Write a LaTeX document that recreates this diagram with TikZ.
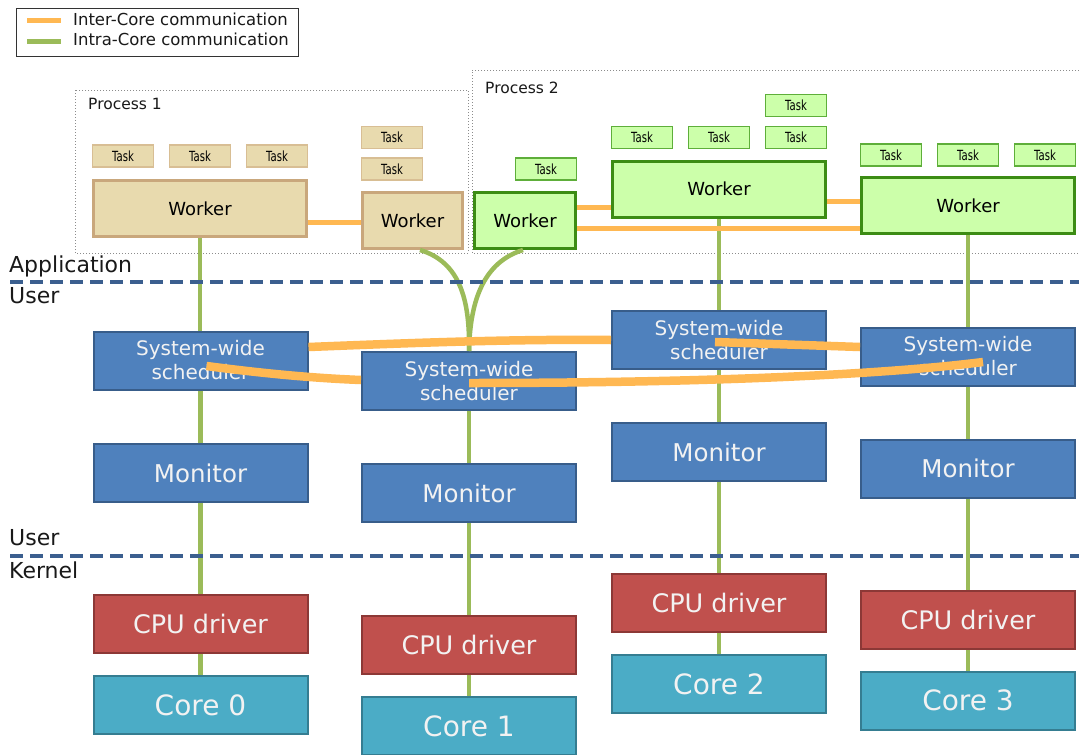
\documentclass[tikz,border=0pt]{standalone}
\usepackage{fontspec}
\setmainfont{DejaVu Sans}
\usepackage{graphicx}
\definecolor{tanfill}{HTML}{E8DAAE}
\definecolor{tanline}{HTML}{C9A77C}
\definecolor{tantask}{HTML}{D8BE94}
\definecolor{grnfill}{HTML}{CCFFAA}
\definecolor{grnline}{HTML}{3C8C14}
\definecolor{grntask}{HTML}{5EAE3A}
\definecolor{bluefill}{HTML}{4F81BD}
\definecolor{blueline}{HTML}{385D8A}
\definecolor{redfill}{HTML}{C0504D}
\definecolor{redline}{HTML}{8C3836}
\definecolor{cyanfill}{HTML}{4BACC6}
\definecolor{cyanline}{HTML}{357D91}
\definecolor{intra}{HTML}{9BBB59}
\definecolor{inter}{HTML}{FFB852}
\definecolor{dashblue}{HTML}{3B5F8F}
\definecolor{boxtext}{HTML}{F2F2F2}
\begin{document}
\begin{tikzpicture}[x=1pt,y=-1pt,
  lbl/.style={inner sep=0pt, anchor=base west, font=\fontsize{22}{26}\selectfont, text=black!90},
  procbox/.style={draw=black!45, dotted, line width=1pt},
  proclbl/.style={inner sep=0pt, anchor=base west, font=\fontsize{15.5}{18}\selectfont, text=black!90},
  tasktan/.style={draw=tantask, fill=tanfill, line width=1.5pt, minimum width=61pt, minimum height=22pt, inner sep=0pt, font=\fontsize{14}{16}\selectfont},
  taskgrn/.style={draw=grntask, fill=grnfill, line width=1.5pt, minimum width=61pt, minimum height=22pt, inner sep=0pt, font=\fontsize{14}{16}\selectfont},
  worktan/.style={draw=tanline, fill=tanfill, line width=3pt, minimum height=56pt, inner sep=0pt, font=\fontsize{18}{22}\selectfont},
  workgrn/.style={draw=grnline, fill=grnfill, line width=3pt, minimum height=56pt, inner sep=0pt, font=\fontsize{18}{22}\selectfont},
  sysbox/.style={line width=2pt, minimum width=214pt, minimum height=58pt, inner sep=0pt, text=boxtext, align=center},
  sched/.style={sysbox, draw=blueline, fill=bluefill, font=\fontsize{20}{24}\selectfont},
  monitor/.style={sysbox, draw=blueline, fill=bluefill, font=\fontsize{24.5}{28}\selectfont},
  cpudrv/.style={sysbox, draw=redline, fill=redfill, font=\fontsize{25.5}{28}\selectfont},
  corebox/.style={sysbox, draw=cyanline, fill=cyanfill, font=\fontsize{28}{32}\selectfont},
  intraline/.style={draw=intra, line width=4.5pt},
  interthin/.style={draw=inter, line width=5pt},
  interthick/.style={draw=inter, line width=8.5pt},
  layer/.style={draw=dashblue, line width=3.5pt, dash pattern=on 13pt off 7pt}
]
\useasboundingbox (0,0) rectangle (1079,755);
\fill[white] (0,0) rectangle (1079,755);

% legend
\node[draw=black!80, line width=0.8pt, minimum width=282pt, minimum height=48pt, inner sep=0pt] (legend) at (157,32) {};
\coordinate (lo1) at (27,20.5);
\coordinate (lo2) at (61,20.5);
\coordinate (lg1) at (27,41);
\coordinate (lg2) at (61,41);
\draw[interthin] (lo1) -- (lo2);
\draw[intraline, line width=5pt] (lg1) -- (lg2);
\node[proclbl, font=\fontsize{16.5}{19}\selectfont] (leginter) at (73,25) {Inter-Core communication};
\node[proclbl, font=\fontsize{16.5}{19}\selectfont] (legintra) at (73,45) {Intra-Core communication};

% process boxes
\draw[procbox] (75,90) rectangle (468,253);
\draw[procbox] (1079,70) -- (472,70) -- (472,253) -- (1079,253);
\node[proclbl] (p1) at (88,109) {Process 1};
\node[proclbl] (p2) at (485,93) {Process 2};

% tasks process 1
\foreach \n/\x/\y in {a/123/156, b/200/156, c/277/156, d/392/137.5, e/392/169}
  \node[tasktan] (t\n) at (\x,\y) {\scalebox{0.72}[1]{Task}};
% tasks process 2
\foreach \n/\x/\y in {f/546/169, g/642/137.5, h/719/137.5, i/796/137.5, j/796/105.5, k/891/155, l/968/155, m/1045/155}
  \node[taskgrn] (t\n) at (\x,\y) {\scalebox{0.72}[1]{Task}};

% workers
\node[worktan, minimum width=213pt] (w1) at (200,208.5) {Worker};
\node[worktan, minimum width=100pt] (w2) at (412.5,220.5) {Worker};
\node[workgrn, minimum width=101pt] (w3) at (525,220.5) {Worker};
\node[workgrn, minimum width=213pt] (w4) at (719,189) {Worker};
\node[workgrn, minimum width=213pt] (w5) at (968,205.5) {Worker};

% layers
\node[lbl] (app) at (9,272) {Application};
\node[lbl] (user1) at (9,303) {User};
\node[lbl] (user2) at (9,545) {User};
\node[lbl] (kern) at (9,578) {Kernel};
\coordinate (d1a) at (10,282);
\coordinate (d1b) at (1079,282);
\coordinate (d2a) at (10,556);
\coordinate (d2b) at (1079,556);

% columns
\node[sched] (s0) at (200.5,360.5) {System-wide\\scheduler};
\node[monitor] (m0) at (200.5,473) {Monitor};
\node[cpudrv] (c0) at (200.5,624) {CPU driver};
\node[corebox] (k0) at (200.5,705) {Core 0};

\node[sched] (s1) at (469,381) {System-wide\\scheduler};
\node[monitor] (m1) at (469,493) {Monitor};
\node[cpudrv] (c1) at (469,645) {CPU driver};
\node[corebox] (k1) at (469,726) {Core 1};

\node[sched] (s2) at (719,340) {System-wide\\scheduler};
\node[monitor] (m2) at (719,452) {Monitor};
\node[cpudrv] (c2) at (719,603) {CPU driver};
\node[corebox] (k2) at (719,684) {Core 2};

\node[sched] (s3) at (968,356.5) {System-wide\\scheduler};
\node[monitor] (m3) at (968,468.5) {Monitor};
\node[cpudrv] (c3) at (968,620) {CPU driver};
\node[corebox] (k3) at (968,700.5) {Core 3};

% intra-core connections
\draw[intraline] (w1.south) -- (w1.south |- s0.north);
\draw[intraline] (w4.south) -- (s2.north);
\draw[intraline] (w5.south) -- (s3.north);
\draw[intraline] ([xshift=7.5pt]w2.south) .. controls (460,262) and (470,300) .. (s1.north);
\draw[intraline] ([xshift=-2pt]w3.south) .. controls (484,262) and (470,300) .. (s1.north);
\foreach \c in {0,1,2,3} {
  \draw[intraline] (s\c.south) -- (m\c.north);
  \draw[intraline] (m\c.south) -- (c\c.north);
  \draw[intraline] (c\c.south) -- (k\c.north);
}

% layer separators
\draw[layer] (d1a) -- (d1b);
\draw[layer] (d2a) -- (d2b);

% inter-core between workers
\draw[interthin] ([yshift=-13.5pt]w1.east) -- ([yshift=-1.5pt]w2.west);
\draw[interthin] ([yshift=13.5pt]w3.east) -- ([yshift=-18pt]w4.west);
\draw[interthin] ([yshift=-12pt]w4.east) -- ([yshift=4.5pt]w5.west);
\draw[interthin] ([yshift=-7.5pt]w3.east) -- ([yshift=-22.5pt]w5.west);

% inter-core between schedulers
\draw[interthick] ([yshift=13.5pt]s0.east) .. controls (410,343) and (510,339) .. (s2.west);
\draw[interthick] ([xshift=6pt,yshift=-5.5pt]s0.center) .. controls (260,373) and (310,378) .. ([yshift=1pt]s1.west);
\draw[interthick] ([yshift=-2pt]s1.center) .. controls (700,383) and (880,375) .. ([xshift=15pt,yshift=-5.5pt]s3.center);
\draw[interthick] ([xshift=-4pt,yshift=-2pt]s2.center) -- ([yshift=9.5pt]s3.west);
\end{tikzpicture}
\end{document}
